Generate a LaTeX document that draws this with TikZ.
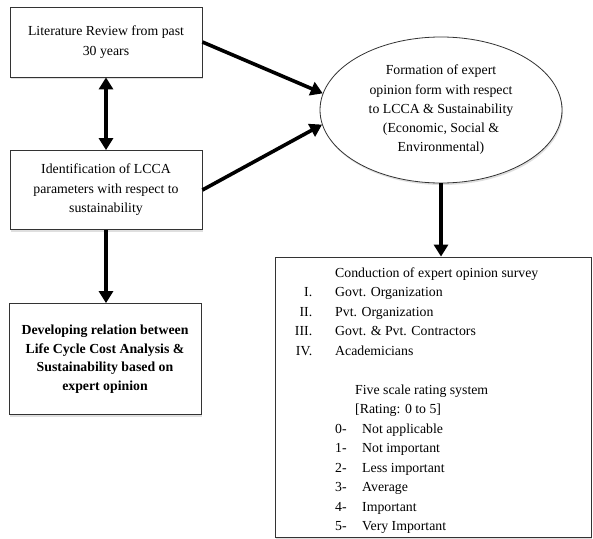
\documentclass[tikz,border=0pt]{standalone}
\usepackage{fontspec}
\setmainfont{Liberation Serif}
\usetikzlibrary{shapes.geometric,arrows.meta,shadows}

\begin{document}
\begin{tikzpicture}[x=1pt,y=-1pt,
  box/.style={draw=black!80,line width=0.8pt,fill=white,align=center,inner sep=0pt,
    font=\fontsize{13.8pt}{19.5pt}\selectfont,
    drop shadow={opacity=0.25,shadow xshift=1pt,shadow yshift=-2pt}},
  flow/.style={line width=3.6pt,-{Triangle[length=12pt,width=14pt]}},
  twoway/.style={line width=3.6pt,{Triangle[length=12pt,width=14pt]}-{Triangle[length=12pt,width=14pt]}}]
\useasboundingbox [fill=white] (0,0) rectangle (593,538);

% left column
\node (lit) at (106,42) [box,minimum width=192,minimum height=70] {Literature Review from past\\30 years};
\node (ident) at (106,190) [box,minimum width=192,minimum height=79] {Identification of LCCA\\parameters with respect to\\sustainability};
\node (dev) at (105,359) [box,minimum width=192,minimum height=111,font=\fontsize{13.8pt}{18.5pt}\selectfont\bfseries] {Developing relation between\\Life Cycle Cost Analysis \&\\Sustainability based on\\expert opinion};

% expert opinion form
\node (form) at (441,110) [box,ellipse,minimum width=242,minimum height=146,font=\fontsize{13.8pt}{19.3pt}\selectfont] {Formation of expert\\opinion form with respect\\to LCCA \& Sustainability\\(Economic, Social \&\\Environmental)};

% survey box
\node (survey) at (433,397) [box,minimum width=316,minimum height=280] {};
\node (surveytext) at (335,267.5) [anchor=north west,inner sep=0pt,align=left,font=\fontsize{13.8pt}{19.5pt}\selectfont] {%
Conduction of expert opinion survey\\
\llap{I.\hspace{23pt}}Govt. Organization\\
\llap{II.\hspace{23pt}}Pvt. Organization\\
\llap{III.\hspace{23pt}}Govt. \& Pvt. Contractors\\
\llap{IV.\hspace{23pt}}Academicians\\[19.5pt]
\hspace*{20pt}Five scale rating system\\
\hspace*{20pt}[Rating: 0 to 5]\\
\makebox[27pt][l]{0-}Not applicable\\
\makebox[27pt][l]{1-}Not important\\
\makebox[27pt][l]{2-}Less important\\
\makebox[27pt][l]{3-}Average\\
\makebox[27pt][l]{4-}Important\\
\makebox[27pt][l]{5-}Very Important};

% connectors
\draw [twoway] (lit.south) -- (ident.north);
\draw [flow] (ident.south) -- (ident.south |- dev.north);
\draw [flow] (lit.east) -- (form.172);
\draw [flow] (ident.east) -- (form.187);
\draw [flow] (form.south) -- (form.south |- survey.north);
\end{tikzpicture}
\end{document}
